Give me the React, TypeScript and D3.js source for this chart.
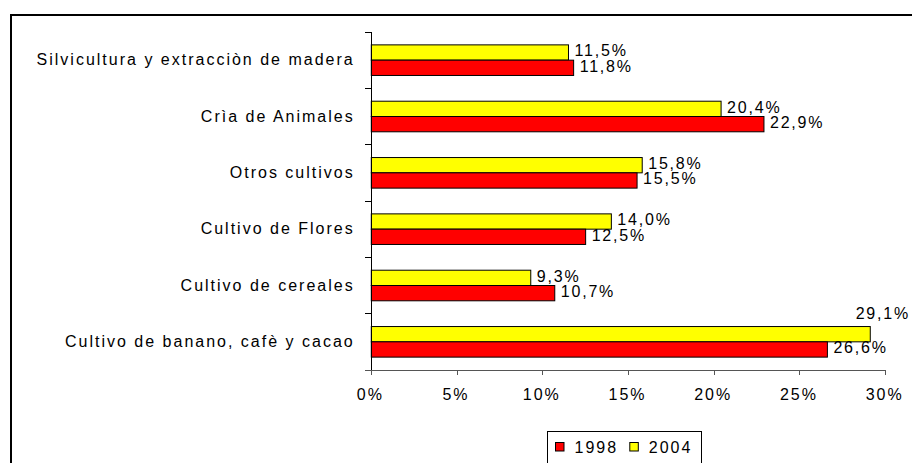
import React from 'react';
import * as d3 from 'd3';

// chart data
const categories = [
  'Silvicultura y extracciòn de madera',
  'Crìa de Animales',
  'Otros cultivos',
  'Cultivo de Flores',
  'Cultivo de cereales',
  'Cultivo de banano, cafè y cacao'
];
const values1998 = [11.8, 22.9, 15.5, 12.5, 10.7, 26.6];
const values2004 = [11.5, 20.4, 15.8, 14.0, 9.3, 29.1];
const seriesNames = ['1998', '2004'];
const seriesColors = ['#ff0000', '#ffff00'];
const xTicks = [0, 5, 10, 15, 20, 25, 30];

const W = 912;
const H = 463;
const FONT = "'Liberation Sans', Arial, sans-serif";

const App = () => {
  // plot area
  const left = 371.3;
  const right = 885.7;
  const top = 32;
  const bottom = 370;

  const x = d3.scaleLinear().domain([0, 30]).range([left, right]);

  // groups take ~54% of each band, centred between the ticks
  const y = d3
    .scaleBand()
    .domain(categories)
    .range([top, bottom])
    .paddingInner(0.457)
    .paddingOuter(0.2285);

  const step = y.step();
  const barH = y.bandwidth() / 2;

  // yellow (2004) sits on top, red (1998) below
  const series = [
    { name: seriesNames[1], color: seriesColors[1], values: values2004, slot: 0 },
    { name: seriesNames[0], color: seriesColors[0], values: values1998, slot: 1 }
  ];

  const fmt = (v) => v.toFixed(1).replace('.', ',') + '%';

  // category ticks sit on band boundaries
  const catTicks = d3.range(categories.length + 1).map((i) => top + i * step);

  const legendItems = [
    { name: seriesNames[0], color: seriesColors[0] },
    { name: seriesNames[1], color: seriesColors[1] }
  ];

  return (
    <svg
      width={W}
      height={H}
      style={{ position: 'absolute', left: 0, top: 0, background: '#fff' }}
      fontFamily={FONT}
    >
      <rect x={0} y={0} width={W} height={H} fill="#fff" />
      {/* outer frame, runs off the right and bottom */}
      <rect x={11} y={15} width={1000} height={1000} fill="none" stroke="#000" strokeWidth={2} />

      {/* bars */}
      {series.map((s) =>
        categories.map((c, i) => {
          const y0 = y(c) + s.slot * barH;
          return (
            <rect
              key={s.name + c}
              x={x(0)}
              y={y0}
              width={x(s.values[i]) - x(0)}
              height={barH}
              fill={s.color}
              stroke="#000"
              strokeWidth={1}
            />
          );
        })
      )}

      {/* value labels */}
      {series.map((s) =>
        categories.map((c, i) => {
          const v = s.values[i];
          const t = fmt(v);
          const y0 = y(c) + s.slot * barH;
          const estW = t.length * 10.6;
          let lx = x(v) + 6;
          let ly = y0 + barH / 2 + 3.8;
          let anchor = 'start';
          // label would run off the chart: Excel pushes it up and in
          if (lx + estW > W - 2) {
            lx = W - 2;
            ly = y0 - 8;
            anchor = 'end';
          }
          return (
            <text
              key={'l' + s.name + c}
              x={lx}
              y={ly}
              textAnchor={anchor}
              fontSize={16}
              letterSpacing={1.8}
              fill="#000"
            >
              {t}
            </text>
          );
        })
      )}

      {/* category axis */}
      <line x1={left} x2={left} y1={top} y2={bottom} stroke="#000" shapeRendering="crispEdges" />
      {catTicks.map((t, i) => (
        <line key={'ct' + i} x1={left - 6} x2={left} y1={t} y2={t} stroke="#000" shapeRendering="crispEdges" />
      ))}
      {categories.map((c) => (
        <text
          key={'c' + c}
          x={354.7}
          y={y(c) + y.bandwidth() / 2 + 5.2}
          textAnchor="end"
          fontSize={16}
          letterSpacing={2}
          fill="#000"
        >
          {c}
        </text>
      ))}

      {/* value axis */}
      <line x1={left - 6} x2={right} y1={bottom} y2={bottom} stroke="#555" shapeRendering="crispEdges" />
      {xTicks.map((t) => (
        <g key={'xt' + t}>
          <line x1={x(t)} x2={x(t)} y1={bottom} y2={bottom + 5} stroke="#555" shapeRendering="crispEdges" />
          <text x={x(t) - 1} y={400} textAnchor="middle" fontSize={16} letterSpacing={2} fill="#000">
            {t + '%'}
          </text>
        </g>
      ))}

      {/* legend */}
      <rect x={547.5} y={431.5} width={154} height={60} fill="#fff" stroke="#000" strokeWidth={1} />
      {legendItems.map((d, i) => {
        const lx = 555 + i * 74.3;
        return (
          <g key={'lg' + d.name}>
            <rect x={lx + 0.5} y={442.5} width={8.5} height={8.5} fill={d.color} stroke="#000" strokeWidth={1} />
            <text x={lx + 19.5} y={452.7} fontSize={16} letterSpacing={2} fill="#000">
              {d.name}
            </text>
          </g>
        );
      })}
    </svg>
  );
};

export default App;
